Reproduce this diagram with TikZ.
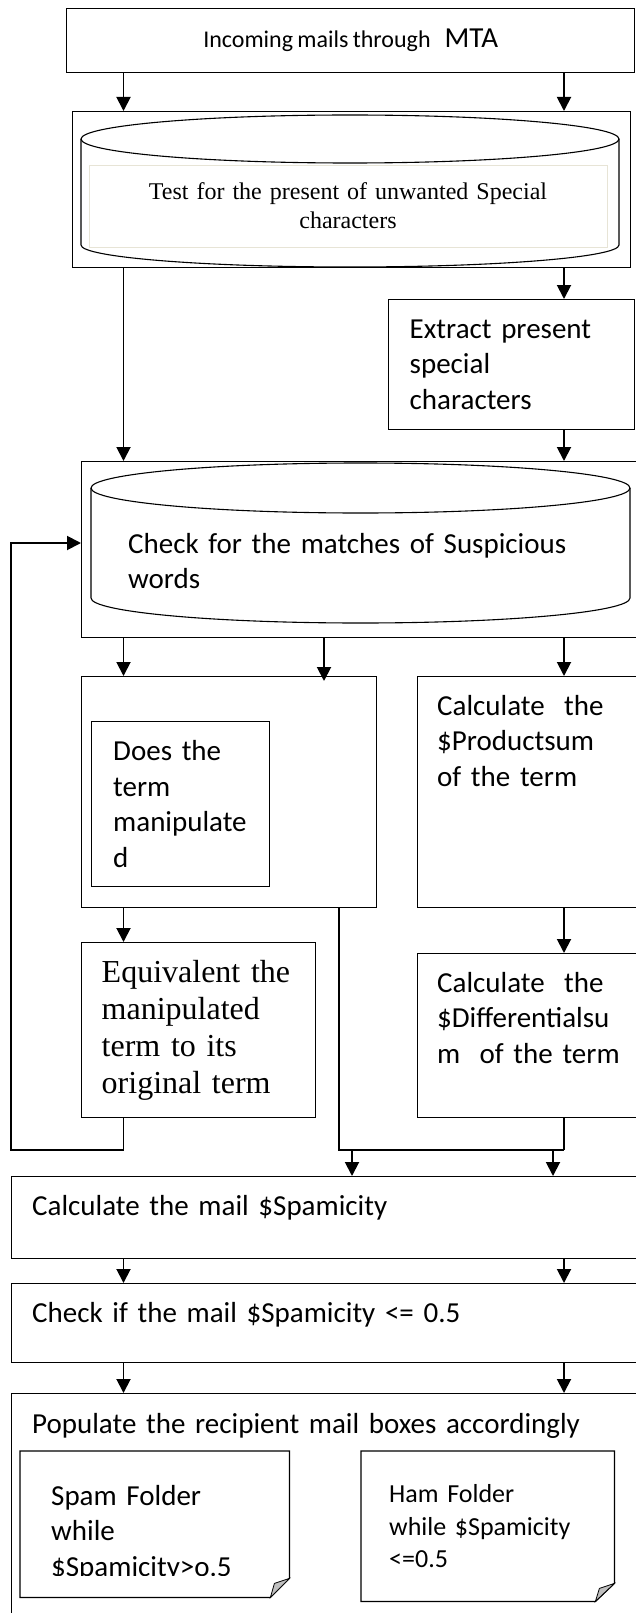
\documentclass[tikz,border=0pt]{standalone}
\usepackage{fontspec}
\newfontfamily\carlito[WordSpace=0.8]{Carlito}
\newfontfamily\libserif{Liberation Serif}
\usetikzlibrary{arrows.meta, calc}

\definecolor{paleedge}{RGB}{231,228,214}
\newcommand\bodyfont{\carlito\fontsize{29}{35.5}\selectfont}

\begin{document}
\begin{tikzpicture}[
    x=1pt, y=1pt,
    box/.style={rectangle, draw, line width=1.4pt, anchor=north west, inner sep=0pt, align=left, font=\bodyfont},
    note/.style={rectangle, anchor=north west, inner sep=0pt, align=left, font=\bodyfont},
    txt/.style={anchor=base west, inner sep=0pt, align=left, text width=560pt, font=\bodyfont},
    cyl/.style={line width=1.1pt},
    edge/.style={line width=1.3pt},
    fold/.style={fill=gray!50, draw=black, line width=0.8pt},
    arrow/.style={-{Triangle[length=14pt, width=14pt]}, line width=1.9pt},
    link/.style={line width=1.5pt}
  ]
  \useasboundingbox (0,0) rectangle (635,-1613);

  % columns for the connectors
  \coordinate (colA) at (123.5,0);
  \coordinate (colB) at (564,0);
  \coordinate (colC) at (324,0);
  \coordinate (colD) at (339,0);
  \coordinate (colE) at (352,0);
  \coordinate (colF) at (553,0);
  \coordinate (loop) at (11,-1150);
  \coordinate (loopin) at (0,-543);
  \coordinate (merge) at (564,-1150);

  % Nodes
  \node[box, minimum width=568pt, minimum height=64pt, align=center] (incoming) at (66,-8)
    {{\fontsize{24}{29}\selectfont Incoming mails through}\hspace{14pt}MTA};

  \node[box, minimum width=558pt, minimum height=156pt] (testbox) at (72,-111) {};
  \draw[cyl] (350,-139) ellipse [x radius=269, y radius=24];
  \draw[cyl] (81,-139) -- (81,-245) arc [start angle=180, end angle=360, x radius=269, y radius=22] -- (619,-139);
  \node[draw=paleedge, line width=0.8pt, minimum width=518pt, minimum height=82pt, inner sep=0pt,
        text width=500pt, align=center, font=\libserif\fontsize{24}{29}\selectfont] (testtext) at (348,-206)
    {Test for the present of unwanted Special\\characters};

  \node[box, minimum width=246pt, minimum height=130pt, text width=204pt] (extract) at (388,-299)
    {Extract present\\special\\characters};

  \node[box, minimum width=560pt, minimum height=176pt] (checkbox) at (81,-461) {};
  \draw[cyl] (360.5,-488) ellipse [x radius=269.5, y radius=25];
  \draw[cyl] (91,-488) -- (91,-598) arc [start angle=180, end angle=360, x radius=269.5, y radius=25] -- (630,-488);
  \node[txt] (checktext) at (128,-553) {Check for the matches of Suspicious\\words};

  \node[box, minimum width=295pt, minimum height=231pt] (doesbox) at (81,-676) {};
  \node[box, minimum width=178pt, minimum height=165pt, text width=135pt] (doesinner) at (91,-721)
    {Does the\\term\\manipulate\\d};

  \node[box, minimum width=224pt, minimum height=231pt] (product) at (417,-676) {};
  \node[txt] (producttext) at (437,-715) {Calculate~ the\\\$Productsum\\of the term};

  \node[box, minimum width=234pt, minimum height=175pt, text width=194pt,
        font=\libserif\fontsize{32}{37}\selectfont] (equiv) at (81,-942)
    {Equivalent the\\manipulated\\term to its\\original term};

  \node[box, minimum width=224pt, minimum height=164pt] (diff) at (417,-953) {};
  \node[txt] (difftext) at (437,-992) {Calculate~ the\\\$Differentialsu\\m~ of the term};

  \node[box, minimum width=630pt, minimum height=82pt] (spamicity) at (11,-1176) {};
  \node[txt] (spamicitytext) at (32,-1215) {Calculate the mail \$Spamicity};

  \node[box, minimum width=630pt, minimum height=79pt] (checkif) at (11,-1283) {};
  \node[txt] (checkiftext) at (32,-1322) {Check if the mail \$Spamicity <= 0.5};

  \node[box, minimum width=630pt, minimum height=232pt] (populate) at (11,-1393) {};
  \node[txt] (populatetext) at (32,-1433) {Populate the recipient mail boxes accordingly};

  % folders
  \node[note, minimum width=269pt, minimum height=146pt] (spamfolder) at (20,-1451) {};
  \draw[edge] (spamfolder.north west) -- (spamfolder.north east) -- ($(spamfolder.south east)+(0,19)$)
    -- ($(spamfolder.south east)+(-19,0)$) -- (spamfolder.south west) -- cycle;
  \draw[fold] ($(spamfolder.south east)+(0,19)$) -- ($(spamfolder.south east)+(-19,0)$)
    -- ($(spamfolder.south east)+(-15,14)$) -- cycle;
  \begin{scope}
    \clip (20,-1451) rectangle (289,-1575);
    \node[txt, text width=220pt] (spamtext) at (51,-1505) {Spam Folder\\while\\\$Spamicity>o.5};
  \end{scope}

  \node[note, minimum width=253pt, minimum height=150pt, text width=197pt,
        font=\carlito\fontsize{26}{32.5}\selectfont] (hamfolder) at (361,-1451)
    {Ham Folder\\while \$Spamicity\\<=0.5};
  \draw[edge] (hamfolder.north west) -- (hamfolder.north east) -- ($(hamfolder.south east)+(0,18)$)
    -- ($(hamfolder.south east)+(-19,0)$) -- (hamfolder.south west) -- cycle;
  \draw[fold] ($(hamfolder.south east)+(0,18)$) -- ($(hamfolder.south east)+(-19,0)$)
    -- ($(hamfolder.south east)+(-15,13)$) -- cycle;

  % Arrows
  \draw[arrow] (incoming.south -| colA) -- (testbox.north -| colA);
  \draw[arrow] (incoming.south -| colB) -- (testbox.north -| colB);
  \draw[arrow] (testbox.south -| colA) -- (checkbox.north -| colA);
  \draw[arrow] (testbox.south -| colB) -- (extract.north -| colB);
  \draw[arrow] (extract.south -| colB) -- (checkbox.north -| colB);
  \draw[arrow] (checkbox.south -| colA) -- (doesbox.north -| colA);
  \draw[arrow] (checkbox.south -| colC) -- ($(doesbox.north -| colC)+(0,-5)$);
  \draw[arrow] (checkbox.south -| colB) -- (product.north -| colB);
  \draw[arrow] (doesbox.south -| colA) -- (equiv.north -| colA);
  \draw[arrow] (product.south -| colB) -- (diff.north -| colB);
  \draw[arrow] (equiv.south -| colA) |- (loop) |- (checkbox.west |- loopin);
  \draw[link] (doesbox.south -| colD) |- (merge);
  \draw[link] (diff.south -| colB) -- (merge);
  \draw[arrow] (merge -| colE) -- (spamicity.north -| colE);
  \draw[arrow] (merge -| colF) -- (spamicity.north -| colF);
  \draw[arrow] (spamicity.south -| colA) -- (checkif.north -| colA);
  \draw[arrow] (spamicity.south -| colB) -- (checkif.north -| colB);
  \draw[arrow] (checkif.south -| colA) -- (populate.north -| colA);
  \draw[arrow] (checkif.south -| colB) -- (populate.north -| colB);
\end{tikzpicture}
\end{document}
